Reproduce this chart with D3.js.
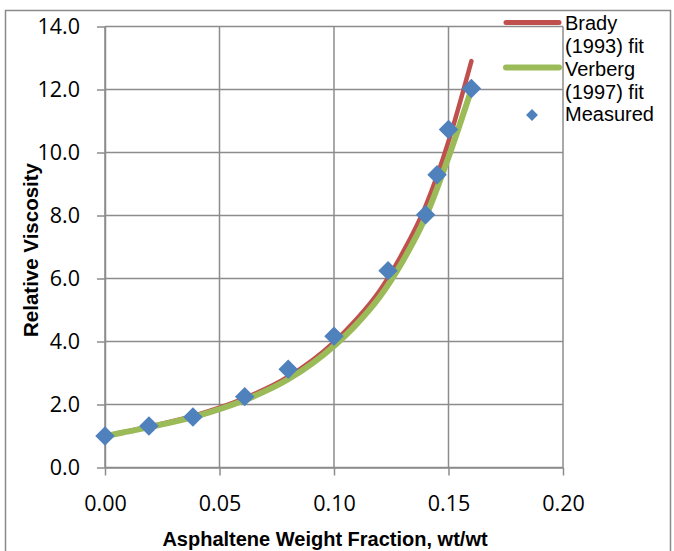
<!DOCTYPE html>
<html>
<head>
<meta charset="utf-8">
<script src="https://cdn.jsdelivr.net/npm/d3@7"></script>
<style>
  html, body { margin: 0; padding: 0; background: #fff; }
  svg { display: block; }
</style>
</head>
<body>
<script>
// ---- data ----
const measuredX = [0.000, 0.0192, 0.0384, 0.061, 0.080, 0.100, 0.1236, 0.140, 0.145, 0.150, 0.160];
const measuredY = [1.00, 1.32, 1.60, 2.25, 3.12, 4.17, 6.25, 8.02, 9.29, 10.73, 12.03];

const bradyX = [0.00, 0.02, 0.04, 0.06, 0.08, 0.10, 0.11, 0.12, 0.13, 0.14, 0.15, 0.16];
const bradyY = [1.00, 1.31, 1.67, 2.17, 2.88, 3.98, 4.72, 5.62, 6.82, 8.30, 10.35, 12.90];

const verbergX = [0.00, 0.02, 0.04, 0.06, 0.08, 0.10, 0.11, 0.12, 0.13, 0.14, 0.15, 0.16];
const verbergY = [1.00, 1.29, 1.63, 2.11, 2.80, 3.86, 4.56, 5.42, 6.55, 7.95, 9.85, 12.00];

const xTicks = [0.00, 0.05, 0.10, 0.15, 0.20];
const yTicks = [0, 2, 4, 6, 8, 10, 12, 14];

const seriesNames = ["Brady", "(1993) fit", "Verberg", "(1997) fit", "Measured"];
const xTitle = "Asphaltene Weight Fraction, wt/wt";
const yTitle = "Relative Viscosity";

// ---- layout ----
const W = 674, H = 551;
const colors = { brady: "#C0504D", verberg: "#9BBB59", measured: "#4F81BD", grid: "#8c8c8c" };

const svg = d3.select("body").append("svg").attr("width", W).attr("height", H);

// outer chart border
svg.append("rect").attr("x", 5.5).attr("y", 10.5).attr("width", 665).attr("height", 560)
  .attr("fill", "none").attr("stroke", "#8a8a8a").attr("stroke-width", 1.5);

const x = d3.scaleLinear().domain([0, 0.2]).range([105, 563]);
const y = d3.scaleLinear().domain([0, 14]).range([467.5, 26.5]);

// gridlines
const grid = svg.append("g");
grid.selectAll("line.h").data(yTicks).join("line")
  .attr("x1", x(0)).attr("x2", x(0.2)).attr("y1", d => y(d)).attr("y2", d => y(d))
  .attr("stroke", colors.grid).attr("stroke-width", 1.5);
grid.selectAll("line.v").data(xTicks).join("line")
  .attr("y1", y(0)).attr("y2", y(14)).attr("x1", d => x(d)).attr("x2", d => x(d))
  .attr("stroke", colors.grid).attr("stroke-width", 1.5);

// axes
const tickFont = "'Open Sans', sans-serif";
const yAxis = svg.append("g").attr("transform", `translate(${x(0)},0)`)
  .call(d3.axisLeft(y).tickValues(yTicks).tickFormat(d3.format(".1f")).tickSize(8).tickSizeOuter(0).tickPadding(17));
const xAxis = svg.append("g").attr("transform", `translate(0,${y(0)})`)
  .call(d3.axisBottom(x).tickValues(xTicks).tickFormat(d3.format(".2f")).tickSize(8).tickSizeOuter(0));
[yAxis, xAxis].forEach(g => {
  g.select(".domain").attr("stroke", colors.grid).attr("stroke-width", 1.5);
  g.selectAll(".tick line").attr("stroke", colors.grid).attr("stroke-width", 1.5);
  g.selectAll(".tick text").attr("fill", "#000").style("font-family", tickFont).style("font-size", "21.5px");
});
xAxis.selectAll(".tick text").attr("y", 43).attr("dy", 0);

// axis titles
svg.append("text").attr("x", 325).attr("y", 546).attr("text-anchor", "middle")
  .style("font-family", "'Liberation Sans', Arial, sans-serif").style("font-weight", "bold").style("font-size", "20px")
  .text(xTitle);
svg.append("text").attr("transform", "translate(37.5,250) rotate(-90)").attr("text-anchor", "middle")
  .style("font-family", "'Liberation Sans', Arial, sans-serif").style("font-weight", "bold").style("font-size", "20.5px")
  .text(yTitle);

// lines
const line = d3.line().x(d => x(d[0])).y(d => y(d[1])).curve(d3.curveMonotoneX);
svg.append("path").datum(d3.zip(bradyX, bradyY)).attr("d", line)
  .attr("fill", "none").attr("stroke", colors.brady).attr("stroke-width", 4.5).attr("stroke-linecap", "round");
svg.append("path").datum(d3.zip(verbergX, verbergY)).attr("d", line)
  .attr("fill", "none").attr("stroke", colors.verberg).attr("stroke-width", 6).attr("stroke-linecap", "round");

// measured diamonds
const diamond = d3.symbol().type(d3.symbolSquare).size(190);
svg.selectAll("path.m").data(d3.zip(measuredX, measuredY)).join("path")
  .attr("d", diamond)
  .attr("transform", d => `translate(${x(d[0])},${y(d[1])}) rotate(45)`)
  .attr("fill", colors.measured);

// legend
const leg = svg.append("g");
leg.append("line").attr("x1", 506).attr("x2", 559).attr("y1", 22.5).attr("y2", 22.5)
  .attr("stroke", colors.brady).attr("stroke-width", 5).attr("stroke-linecap", "round");
leg.append("line").attr("x1", 506).attr("x2", 559).attr("y1", 67.5).attr("y2", 67.5)
  .attr("stroke", colors.verberg).attr("stroke-width", 6).attr("stroke-linecap", "round");
leg.append("path").attr("d", d3.symbol().type(d3.symbolSquare).size(70))
  .attr("transform", "translate(532,115) rotate(45)").attr("fill", colors.measured);
const legBase = [29.5, 52.5, 75.5, 98.5, 121];
leg.selectAll("text").data(seriesNames).join("text")
  .attr("x", 565).attr("y", (d, i) => legBase[i])
  .style("font-family", "'Liberation Sans', Arial, sans-serif").style("font-size", "20px")
  .attr("fill", "#000").text(d => d);
</script>
</body>
</html>
